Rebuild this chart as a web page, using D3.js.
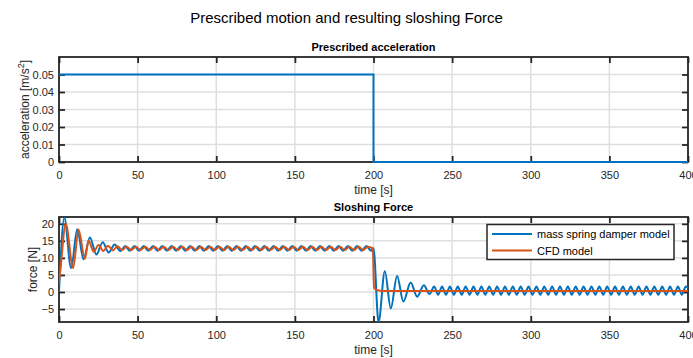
<!DOCTYPE html>
<html><head><meta charset="utf-8">
<script src="https://cdn.jsdelivr.net/npm/d3@7"></script>
<style>
html,body{margin:0;padding:0;background:#fff;}
svg{display:block;font-family:"Liberation Sans",Arial,Helvetica,sans-serif;}
</style></head>
<body>
<svg id="chart" width="693" height="358"></svg>
<script>
// ---------- data ----------
const timeTicks = [0, 50, 100, 150, 200, 250, 300, 350, 400];
const accTicks = [0, 0.01, 0.02, 0.03, 0.04, 0.05];
const forceTicks = [-5, 0, 5, 10, 15, 20];

// prescribed acceleration [t, a]
const accel = [[0, 0.05], [200, 0.05], [200, 0], [400, 0]];

// mass spring damper model: extrema [t, F]
const msdModel = [
  [0,0],[3.4,21.8],[7.7,7.0],[11.6,18.4],[15.6,9.6],[19.6,16.0],[23.8,11.0],[27.8,14.6],
  [31.6,11.6],[35.4,13.9],[39.2,12.0],
  [42.1,13.5],[45.0,12.1],[48.0,13.5],[50.9,12.1],[53.9,13.5],[56.8,12.1],[59.8,13.5],[62.7,12.1],
  [65.7,13.5],[68.6,12.1],[71.6,13.5],[74.5,12.1],[77.5,13.5],[80.4,12.1],[83.4,13.5],[86.3,12.1],
  [89.3,13.5],[92.2,12.1],[95.2,13.5],[98.1,12.1],[101.1,13.5],[104.0,12.1],[107.0,13.5],[109.9,12.1],
  [112.9,13.5],[115.8,12.1],[118.8,13.5],[121.7,12.1],[124.7,13.5],[127.6,12.1],[130.6,13.5],[133.5,12.1],
  [136.5,13.5],[139.4,12.1],[142.4,13.5],[145.3,12.1],[148.3,13.5],[151.2,12.1],[154.2,13.5],[157.1,12.1],
  [160.1,13.5],[163.0,12.1],[166.0,13.5],[168.9,12.1],[171.9,13.5],[174.8,12.1],[177.8,13.5],[180.7,12.1],
  [183.7,13.5],[186.6,12.1],[189.6,13.5],[192.5,12.1],[195.5,13.5],[198.4,12.1],[200.0,12.8],
  [203.2,-8.8],[207.2,6.1],[211.0,-4.8],[215.0,4.7],[219.0,-2.8],[223.6,2.8],[227.8,-1.4],[232.0,2.0],
  [235.6,-0.6],[238.6,1.6],[241.1,-0.8],[243.6,1.6],[246.1,-0.8],[248.6,1.6],[251.1,-0.8],[253.6,1.6],
  [256.1,-0.8],[258.6,1.6],[261.1,-0.8],[263.6,1.6],[266.1,-0.8],[268.6,1.6],[271.1,-0.8],[273.6,1.6],
  [276.1,-0.8],[278.6,1.6],[281.1,-0.8],[283.6,1.6],[286.1,-0.8],[288.6,1.6],[291.1,-0.8],[293.6,1.6],
  [296.1,-0.8],[298.6,1.6],[301.1,-0.8],[303.6,1.6],[306.1,-0.8],[308.6,1.6],[311.1,-0.8],[313.6,1.6],
  [316.1,-0.8],[318.6,1.6],[321.1,-0.8],[323.6,1.6],[326.1,-0.8],[328.6,1.6],[331.1,-0.8],[333.6,1.6],
  [336.1,-0.8],[338.6,1.6],[341.1,-0.8],[343.6,1.6],[346.1,-0.8],[348.6,1.6],[351.1,-0.8],[353.6,1.6],
  [356.1,-0.8],[358.6,1.6],[361.1,-0.8],[363.6,1.6],[366.1,-0.8],[368.6,1.6],[371.1,-0.8],[373.6,1.6],
  [376.1,-0.8],[378.6,1.6],[381.1,-0.8],[383.6,1.6],[386.1,-0.8],[388.6,1.6],[391.1,-0.8],[393.6,1.6],
  [396.1,-0.8],[398.6,1.6],[400.0,1.2]
];

// CFD model: extrema [t, F]
const cfdModel = [
  [0,2.8],[1.0,7.0],[4.3,20.0],[9.0,7.0],[12.4,18.3],[16.5,9.8],[18.8,15.0],[22.0,11.8],[25.2,13.8],
  [28.2,12.0],[31.2,13.6],[34.2,12.2],[37.2,13.4],[40.1,12.3],
  [43.0,13.3],[46.0,12.3],[48.9,13.3],[51.9,12.3],[54.8,13.3],[57.8,12.3],[60.7,13.3],[63.7,12.3],
  [66.6,13.3],[69.6,12.3],[72.5,13.3],[75.5,12.3],[78.4,13.3],[81.4,12.3],[84.3,13.3],[87.3,12.3],
  [90.2,13.3],[93.2,12.3],[96.1,13.3],[99.1,12.3],[102.0,13.3],[105.0,12.3],[107.9,13.3],[110.9,12.3],
  [113.8,13.3],[116.8,12.3],[119.7,13.3],[122.7,12.3],[125.6,13.3],[128.6,12.3],[131.5,13.3],[134.5,12.3],
  [137.4,13.3],[140.4,12.3],[143.3,13.3],[146.3,12.3],[149.2,13.3],[152.2,12.3],[155.1,13.3],[158.1,12.3],
  [161.0,13.3],[164.0,12.3],[166.9,13.3],[169.9,12.3],[172.8,13.3],[175.8,12.3],[178.7,13.3],[181.7,12.3],
  [184.6,13.3],[187.6,12.3],[190.5,13.3],[193.5,12.3],[196.4,13.3],[199.5,12.8],
  [200.4,1.2],[202.5,0.5],[206.0,0.3],[400.0,0.3]
];

const seriesNames = ["mass spring damper model", "CFD model"];
const seriesColors = ["#0072BD", "#D95319"];

// ---------- drawing ----------
const svg = d3.select("#chart");
const axisColor = "#262626";
const gridColor = "#dfdfdf";
const L = 59, R = 688;

svg.append("text").attr("x", 346.5).attr("y", 23).attr("text-anchor", "middle")
  .attr("font-size", 15).attr("fill", "#000")
  .text("Prescribed motion and resulting sloshing Force");

function panel(cfg) {
  const x = d3.scaleLinear().domain([0, 400]).range([L, R]);
  const y = d3.scaleLinear().domain(cfg.yDomain).range([cfg.bottom, cfg.top]);
  const g = svg.append("g");

  // grid
  g.append("g").selectAll("line").data(timeTicks).join("line")
    .attr("x1", d => x(d)).attr("x2", d => x(d)).attr("y1", cfg.top).attr("y2", cfg.bottom)
    .attr("stroke", gridColor).attr("stroke-width", 1.5);
  g.append("g").selectAll("line").data(cfg.yTicks).join("line")
    .attr("y1", d => y(d)).attr("y2", d => y(d)).attr("x1", L).attr("x2", R)
    .attr("stroke", gridColor).attr("stroke-width", 1.5);

  // axes with inward ticks
  const tk = 6;
  const ax = g.append("g").attr("transform", `translate(0,${cfg.bottom})`)
    .call(d3.axisBottom(x).tickValues(timeTicks).tickSizeInner(-tk).tickSizeOuter(0).tickPadding(9).tickFormat(d3.format("d")));
  const axTop = g.append("g").attr("transform", `translate(0,${cfg.top})`)
    .call(d3.axisTop(x).tickValues(timeTicks).tickSizeInner(-tk).tickSizeOuter(0).tickFormat(""));
  const ay = g.append("g").attr("transform", `translate(${L},0)`)
    .call(d3.axisLeft(y).tickValues(cfg.yTicks).tickSizeInner(-tk).tickSizeOuter(0).tickPadding(5).tickFormat(cfg.fmt));
  const ayR = g.append("g").attr("transform", `translate(${R},0)`)
    .call(d3.axisRight(y).tickValues(cfg.yTicks).tickSizeInner(-tk).tickSizeOuter(0).tickFormat(""));
  [ax, axTop, ay, ayR].forEach(a => {
    a.select(".domain").remove();
    a.selectAll("line").attr("stroke", axisColor).attr("stroke-width", 1.8);
    a.selectAll("text").attr("fill", axisColor).attr("font-size", 11)
      .attr("font-family", '"Liberation Sans",Arial,sans-serif');
  });

  // box
  g.append("rect").attr("x", L).attr("y", cfg.top).attr("width", R - L).attr("height", cfg.bottom - cfg.top)
    .attr("fill", "none").attr("stroke", axisColor).attr("stroke-width", 1.8);

  // title
  g.append("text").attr("x", (L + R) / 2).attr("y", cfg.top - 6).attr("text-anchor", "middle")
    .attr("font-size", 11).attr("font-weight", "bold").attr("fill", "#000").text(cfg.title);
  // x label
  g.append("text").attr("x", (L + R) / 2).attr("y", cfg.bottom + 32).attr("text-anchor", "middle")
    .attr("font-size", 12).attr("fill", axisColor).text("time [s]");
  // y label
  const yl = g.append("text").attr("transform", `translate(${cfg.ylabelX},${(cfg.top + cfg.bottom) / 2}) rotate(-90)`)
    .attr("text-anchor", "middle").attr("font-size", 12).attr("fill", axisColor);
  cfg.ylabel(yl);

  return { x, y, g };
}

// top panel
const p1 = panel({
  top: 57, bottom: 162, yDomain: [0, 0.06], yTicks: accTicks,
  fmt: d => d === 0 ? "0" : d3.format(".2f")(d),
  title: "Prescribed acceleration", ylabelX: 29,
  ylabel: t => {
    t.append("tspan").text("acceleration [m/s");
    t.append("tspan").attr("dy", -5).attr("font-size", 9).text("2");
    t.append("tspan").attr("dy", 5).text("]");
  }
});
p1.g.append("path").datum(accel)
  .attr("d", d3.line().x(d => p1.x(d[0])).y(d => p1.y(d[1])))
  .attr("fill", "none").attr("stroke", seriesColors[0]).attr("stroke-width", 2);

// bottom panel
const p2 = panel({
  top: 217, bottom: 322, yDomain: [-8.8, 22], yTicks: forceTicks,
  fmt: d3.format("d"),
  title: "Sloshing Force", ylabelX: 37,
  ylabel: t => t.text("force [N]")
});
const clipId = "clip2";
svg.append("clipPath").attr("id", clipId).append("rect")
  .attr("x", L).attr("y", 217).attr("width", R - L).attr("height", 322 - 217);
const line2 = d3.line().x(d => p2.x(d[0])).y(d => p2.y(d[1])).curve(d3.curveMonotoneX);
[msdModel, cfdModel].forEach((s, i) => {
  p2.g.append("path").datum(s).attr("clip-path", `url(#${clipId})`)
    .attr("d", line2).attr("fill", "none")
    .attr("stroke", seriesColors[i]).attr("stroke-width", 2)
    .attr("stroke-linejoin", "round");
});

// legend
const lg = svg.append("g");
lg.append("rect").attr("x", 487).attr("y", 224.5).attr("width", 187).attr("height", 35)
  .attr("fill", "#fff").attr("stroke", axisColor).attr("stroke-width", 1.5);
seriesNames.forEach((n, i) => {
  const yy = 234 + i * 16.5;
  lg.append("line").attr("x1", 492).attr("x2", 532).attr("y1", yy).attr("y2", yy)
    .attr("stroke", seriesColors[i]).attr("stroke-width", 2);
  lg.append("text").attr("x", 537).attr("y", yy + 4).attr("font-size", 11)
    .attr("fill", "#000").text(n);
});
</script>
</body></html>
